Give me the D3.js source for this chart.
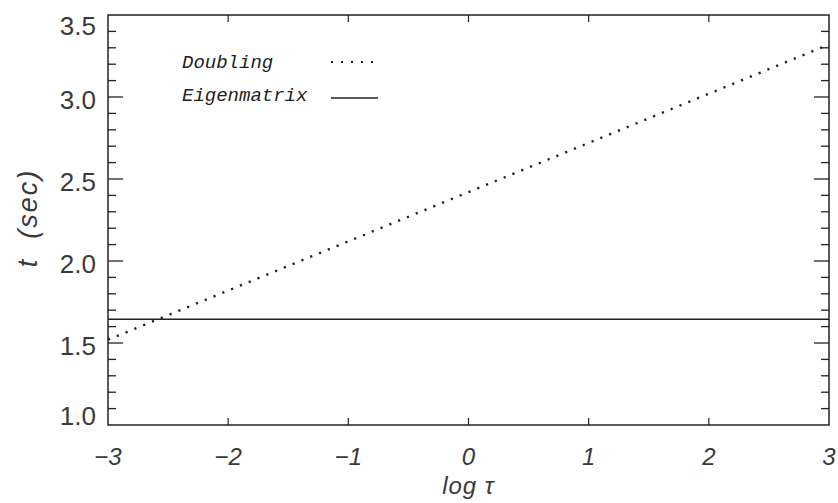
<!DOCTYPE html>
<html>
<head>
<meta charset="utf-8">
<script src="https://cdn.jsdelivr.net/npm/d3@7"></script>
<style>
  body { margin: 0; background: #fff; }
  .tick-lbl { font-family: "Liberation Sans", sans-serif; fill: #3a3a3a; }
</style>
</head>
<body>
<script>
// data
var logTau = [-3, -2, -1, 0, 1, 2, 3];
var doubling = [1.52, 1.82, 2.12, 2.42, 2.72, 3.02, 3.32];
var eigen = [1.645, 1.645, 1.645, 1.645, 1.645, 1.645, 1.645];
var xTicks = [-3, -2, -1, 0, 1, 2, 3];
var yTicks = [1.0, 1.5, 2.0, 2.5, 3.0, 3.5];
var legendNames = ["Doubling", "Eigenmatrix"];

var W = 838, H = 503;
var margin = {top: 15, right: 9, bottom: 78, left: 108};
var w = W - margin.left - margin.right,
    h = H - margin.top - margin.bottom;

var svg = d3.select("body").append("svg")
    .attr("width", W).attr("height", H);

var g = svg.append("g")
    .attr("transform", "translate(" + margin.left + "," + margin.top + ")");

// scales
var xscale = d3.scaleLinear().domain([-3, 3]).range([0, w]);
var yscale = d3.scaleLinear().domain([1.0, 3.5]).range([h, 0]);

var stroke = "#222";

// frame
g.append("rect")
    .attr("width", w).attr("height", h)
    .attr("fill", "none").attr("stroke", stroke).attr("stroke-width", 1.5);

// minor y ticks (every 0.1) on left and right
var minorY = d3.range(11, 35).map(function(d) { return d / 10; });
minorY.forEach(function(v) {
    var major = Math.abs(v * 2 - Math.round(v * 2)) < 1e-6;
    var len = major ? 15 : 8;
    g.append("line").attr("x1", 0).attr("x2", len)
        .attr("y1", yscale(v)).attr("y2", yscale(v))
        .attr("stroke", stroke).attr("stroke-width", 1.3);
    g.append("line").attr("x1", w).attr("x2", w - len)
        .attr("y1", yscale(v)).attr("y2", yscale(v))
        .attr("stroke", stroke).attr("stroke-width", 1.3);
});

// x ticks top and bottom
xTicks.slice(1, -1).forEach(function(v) {
    g.append("line").attr("x1", xscale(v)).attr("x2", xscale(v))
        .attr("y1", h).attr("y2", h - 7)
        .attr("stroke", stroke).attr("stroke-width", 1.2);
    g.append("line").attr("x1", xscale(v)).attr("x2", xscale(v))
        .attr("y1", 0).attr("y2", 7)
        .attr("stroke", stroke).attr("stroke-width", 1.2);
});

// y tick labels (end labels kept inside the frame, like the original)
g.selectAll(".ylbl").data(yTicks).enter().append("text")
    .attr("class", "tick-lbl")
    .attr("x", -12)
    .attr("y", function(d) {
        var c = Math.min(Math.max(yscale(d) + 3, 11), h - 9);
        return c + 9;
    })
    .attr("text-anchor", "end")
    .attr("font-size", "26px")
    .text(function(d) { return d.toFixed(1); });

// x tick labels
g.selectAll(".xlbl").data(xTicks).enter().append("text")
    .attr("class", "tick-lbl")
    .attr("x", function(d) { return xscale(d); })
    .attr("y", h + 40)
    .attr("text-anchor", "middle")
    .attr("font-size", "24px")
    .attr("font-style", "italic")
    .text(function(d) { return d < 0 ? "\u2212" + Math.abs(d) : d; });

// axis titles
svg.append("text")
    .attr("class", "tick-lbl")
    .attr("x", margin.left + xscale(0))
    .attr("y", 494)
    .attr("text-anchor", "middle")
    .attr("font-size", "24px")
    .attr("font-style", "italic")
    .attr("letter-spacing", "1px")
    .text("log \u03C4");

svg.append("text")
    .attr("class", "tick-lbl")
    .attr("transform", "translate(37,218) rotate(-90)")
    .attr("text-anchor", "middle")
    .attr("font-size", "27px")
    .attr("font-style", "italic")
    .attr("letter-spacing", "2px")
    .attr("xml:space", "preserve")
    .text("t  (sec)");

// lines
var line = d3.line()
    .x(function(d) { return xscale(d[0]); })
    .y(function(d) { return yscale(d[1]); });

g.append("path")
    .datum(d3.zip(logTau, doubling))
    .attr("d", line)
    .attr("fill", "none").attr("stroke", stroke)
    .attr("stroke-width", 2.4)
    .attr("stroke-dasharray", "2.2,7.3");

g.append("path")
    .datum(d3.zip(logTau, eigen))
    .attr("d", line)
    .attr("fill", "none").attr("stroke", stroke)
    .attr("stroke-width", 1.5);

// legend
var leg = svg.append("g");
legendNames.forEach(function(name, i) {
    var y = 62 + i * 33;
    leg.append("text")
        .attr("x", 182).attr("y", y + 6)
        .attr("font-family", "Liberation Mono, monospace")
        .attr("font-style", "italic")
        .attr("font-size", "19px")
        .attr("fill", "#222")
        .text(name);
    leg.append("line")
        .attr("x1", 331).attr("x2", 378)
        .attr("y1", i == 0 ? y : y + 3).attr("y2", i == 0 ? y : y + 3)
        .attr("stroke", stroke)
        .attr("stroke-width", i == 0 ? 2 : 1.5)
        .attr("stroke-dasharray", i == 0 ? "2,8" : null);
});
</script>
</body>
</html>
